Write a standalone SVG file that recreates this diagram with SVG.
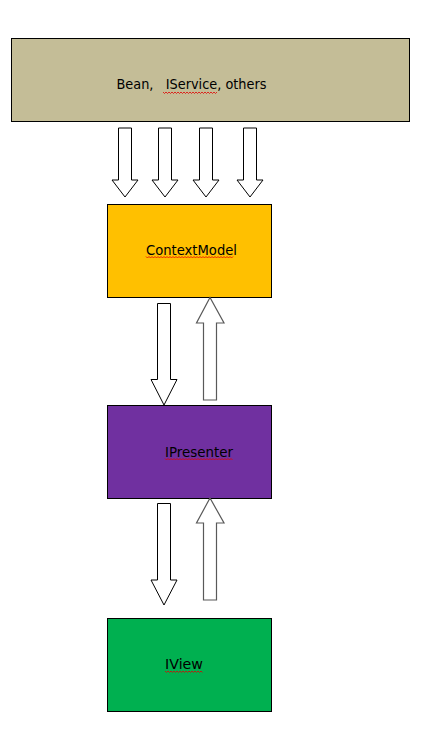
<svg xmlns="http://www.w3.org/2000/svg" width="424" height="738" viewBox="0 0 424 738">
<style>
.box{stroke:#000;stroke-width:1}
.lbl{font-family:"DejaVu Sans","Liberation Sans",sans-serif;font-size:13.5px;fill:#000}
.dn{fill:#fff;stroke:#000;stroke-width:1;stroke-linejoin:miter}
.up{fill:#fff;stroke:#595959;stroke-width:1.2;stroke-linejoin:miter}
.sq{fill:none;stroke:#e00000;stroke-width:0.8}
</style>
<rect width="424" height="738" fill="#fff"/>
<g id="sources">
<rect class="box" x="11.5" y="38.5" width="398" height="83" fill="#C4BD97"/>
<text class="lbl" x="116.5" y="89" textLength="150" lengthAdjust="spacingAndGlyphs" xml:space="preserve">Bean,   IService, others</text>
<path class="sq" d="M163 92 l1.5 1.5 l1.5 -1.5 l1.5 1.5 l1.5 -1.5 l1.5 1.5 l1.5 -1.5 l1.5 1.5 l1.5 -1.5 l1.5 1.5 l1.5 -1.5 l1.5 1.5 l1.5 -1.5 l1.5 1.5 l1.5 -1.5 l1.5 1.5 l1.5 -1.5 l1.5 1.5 l1.5 -1.5 l1.5 1.5 l1.5 -1.5 l1.5 1.5 l1.5 -1.5 l1.5 1.5 l1.5 -1.5 l1.5 1.5 l1.5 -1.5 l1.5 1.5 l1.5 -1.5 l1.5 1.5 l1.5 -1.5 l1.5 1.5 l1.5 -1.5 l1.5 1.5 l1.5 -1.5 l1.5 1.5 l1.5 -1.5"/>
</g>
<g id="contextmodel">
<rect class="box" x="107.5" y="204.5" width="164" height="93" fill="#FFC000"/>
<text class="lbl" x="146" y="254.5" textLength="91" lengthAdjust="spacingAndGlyphs">ContextModel</text>
<path class="sq" d="M146 256.5 l1.5 1.5 l1.5 -1.5 l1.5 1.5 l1.5 -1.5 l1.5 1.5 l1.5 -1.5 l1.5 1.5 l1.5 -1.5 l1.5 1.5 l1.5 -1.5 l1.5 1.5 l1.5 -1.5 l1.5 1.5 l1.5 -1.5 l1.5 1.5 l1.5 -1.5 l1.5 1.5 l1.5 -1.5 l1.5 1.5 l1.5 -1.5 l1.5 1.5 l1.5 -1.5 l1.5 1.5 l1.5 -1.5 l1.5 1.5 l1.5 -1.5 l1.5 1.5 l1.5 -1.5 l1.5 1.5 l1.5 -1.5 l1.5 1.5 l1.5 -1.5 l1.5 1.5 l1.5 -1.5 l1.5 1.5 l1.5 -1.5 l1.5 1.5 l1.5 -1.5 l1.5 1.5 l1.5 -1.5 l1.5 1.5 l1.5 -1.5 l1.5 1.5 l1.5 -1.5 l1.5 1.5 l1.5 -1.5 l1.5 1.5 l1.5 -1.5 l1.5 1.5 l1.5 -1.5 l1.5 1.5 l1.5 -1.5 l1.5 1.5 l1.5 -1.5 l1.5 1.5 l1.5 -1.5 l1.5 1.5 l1.5 -1.5"/>
</g>
<g id="ipresenter">
<rect class="box" x="107.5" y="405.5" width="164" height="93" fill="#7030A0"/>
<text class="lbl" x="165" y="456.5" textLength="68" lengthAdjust="spacingAndGlyphs">IPresenter</text>
<path class="sq" d="M165 458.5 l1.5 1.5 l1.5 -1.5 l1.5 1.5 l1.5 -1.5 l1.5 1.5 l1.5 -1.5 l1.5 1.5 l1.5 -1.5 l1.5 1.5 l1.5 -1.5 l1.5 1.5 l1.5 -1.5 l1.5 1.5 l1.5 -1.5 l1.5 1.5 l1.5 -1.5 l1.5 1.5 l1.5 -1.5 l1.5 1.5 l1.5 -1.5 l1.5 1.5 l1.5 -1.5 l1.5 1.5 l1.5 -1.5 l1.5 1.5 l1.5 -1.5 l1.5 1.5 l1.5 -1.5 l1.5 1.5 l1.5 -1.5 l1.5 1.5 l1.5 -1.5 l1.5 1.5 l1.5 -1.5 l1.5 1.5 l1.5 -1.5 l1.5 1.5 l1.5 -1.5 l1.5 1.5 l1.5 -1.5 l1.5 1.5 l1.5 -1.5 l1.5 1.5 l1.5 -1.5 l1.5 1.5"/>
</g>
<g id="iview">
<rect class="box" x="107.5" y="618.5" width="164" height="93" fill="#00B050"/>
<text class="lbl" x="165" y="669" textLength="38" lengthAdjust="spacingAndGlyphs">IView</text>
<path class="sq" d="M165 671 l1.5 1.5 l1.5 -1.5 l1.5 1.5 l1.5 -1.5 l1.5 1.5 l1.5 -1.5 l1.5 1.5 l1.5 -1.5 l1.5 1.5 l1.5 -1.5 l1.5 1.5 l1.5 -1.5 l1.5 1.5 l1.5 -1.5 l1.5 1.5 l1.5 -1.5 l1.5 1.5 l1.5 -1.5 l1.5 1.5 l1.5 -1.5 l1.5 1.5 l1.5 -1.5 l1.5 1.5 l1.5 -1.5 l1.5 1.5"/>
</g>
<g id="connectors">
<polygon class="dn" points="118.5,128 131.5,128 131.5,180 138,180 125,197 112,180 118.5,180"/>
<polygon class="dn" points="158.5,128 171.5,128 171.5,180 178,180 165,197 152,180 158.5,180"/>
<polygon class="dn" points="199.5,128 212.5,128 212.5,180 219,180 206,197 193,180 199.5,180"/>
<polygon class="dn" points="243.5,128 256.5,128 256.5,180 263,180 250,197 237,180 243.5,180"/>
<polygon class="dn" points="157.5,303.5 170.5,303.5 170.5,379.5 177,379.5 164,405 151,379.5 157.5,379.5"/>
<polygon class="up" points="203.5,400 216.5,400 216.5,323 224,323 210,297.5 196.5,323 203.5,323"/>
<polygon class="dn" points="157.5,503.5 170.5,503.5 170.5,580 177,580 164,605 151,580 157.5,580"/>
<polygon class="up" points="203.5,600 216.5,600 216.5,523 224,523 210,498 196.5,523 203.5,523"/>
</g>
</svg>
